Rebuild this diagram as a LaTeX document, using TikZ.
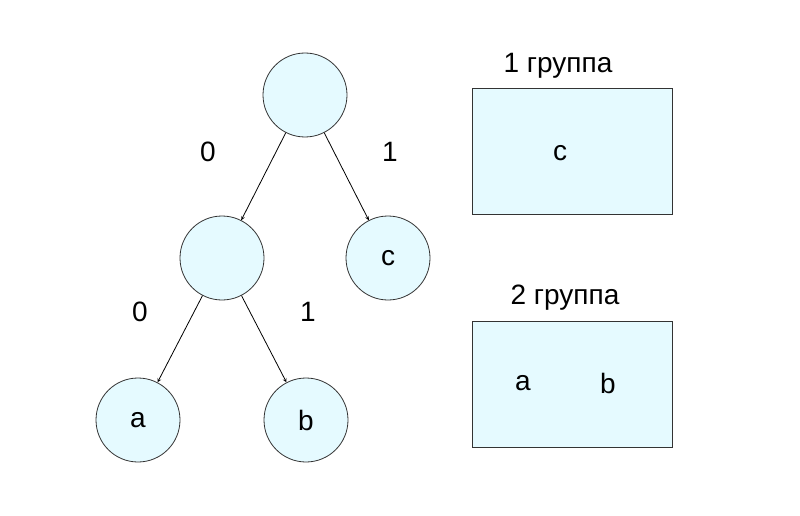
\documentclass[tikz,border=0pt]{standalone}
\usepackage{fontspec}
\setmainfont{Liberation Sans}
\usetikzlibrary{positioning}
\begin{document}
\begin{tikzpicture}[x=1pt,y=-1pt,
    font=\fontsize{28}{32}\selectfont,
    leaf/.style={circle, draw=black!80, fill=blue!20!cyan!10, thick, minimum size=84pt, inner sep=0pt},
    group/.style={rectangle, draw=black!80, fill=blue!20!cyan!10, thick, minimum width=200pt, minimum height=126pt},
    lbl/.style={inner sep=0pt},
]
\useasboundingbox (0,0) rectangle (800,516);
% Tree
\node[leaf] (root) at (305,95) {};
\node[leaf] (mid)  at (222,258) {};
\node[leaf] (c)    at (388,258) {c};
\node[leaf] (a)    at (138,420) {a};
\node[leaf] (b)    at (306,420) {b};

% Edges
\draw[-stealth, thick] (root) -- (mid);
\draw[-stealth, thick] (root) -- (c);
\draw[-stealth, thick] (mid) -- (a);
\draw[-stealth, thick] (mid) -- (b);

% Edge labels
\node[lbl] (l0) at (208,152) {0};
\node[lbl] (l1) at (390,152) {1};
\node[lbl] (l2) at (140,312) {0};
\node[lbl] (l3) at (308,312) {1};

% Groups
\node[group] (g1) at (572,151) {};
\node[lbl] (g1t) at (558,66) {1 группа};
\node[lbl] at (560,153) {c};
\node[group] (g2) at (572,384) {};
\node[lbl] (g2t) at (565,298) {2 группа};
\node[lbl] at (523,383) {a};
\node[lbl] at (608,383) {b};
\end{tikzpicture}
\end{document}
